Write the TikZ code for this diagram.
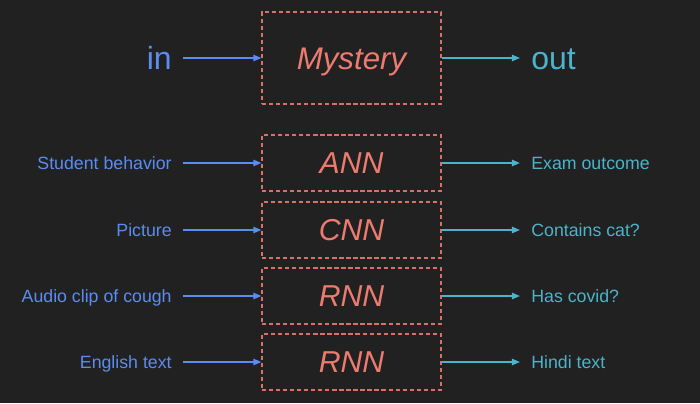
\documentclass[tikz,border=0pt]{standalone}
\usepackage{fontspec}
\setmainfont{Liberation Sans}
\usetikzlibrary{arrows.meta}
\definecolor{bgdark}{HTML}{212121}
\definecolor{inblue}{HTML}{5B8DEF}
\definecolor{outteal}{HTML}{4BB3CC}
\definecolor{netred}{HTML}{EC7B70}
\definecolor{boxred}{HTML}{D9706A}
\begin{document}
\begin{tikzpicture}[x=0.02cm, y=-0.02cm,
    netbox/.style={draw=boxred, line width=0.65pt, dash pattern=on 2.4pt off 1.6pt,
      minimum width=3.58cm, minimum height=1.12cm, text=netred, inner sep=0pt,
      text height=12.4pt, text depth=0pt, font=\fontsize{17.2}{20}\selectfont\itshape},
    inlbl/.style={text=inblue, anchor=east, inner xsep=0.22cm, inner ysep=0pt,
      text height=7.3pt, text depth=0pt, font=\fontsize{10.1}{12}\selectfont},
    outlbl/.style={text=outteal, anchor=west, inner xsep=0.22cm, inner ysep=0pt,
      text height=7.3pt, text depth=0pt, font=\fontsize{10.1}{12}\selectfont},
    inarr/.style={draw=inblue, line width=0.9pt, -{Triangle[length=4.6pt,width=3.6pt]}},
    outarr/.style={draw=outteal, line width=0.9pt, -{Triangle[length=4.6pt,width=3.6pt]}}]
  \fill[bgdark] (0,0) rectangle (700,403);
  \node[netbox, minimum height=1.84cm, text height=12.8pt, font=\fontsize{17.8}{22}\selectfont\itshape] (mystery) at (351.5,58) {Mystery};
  \node[inlbl, text height=13pt, font=\fontsize{18.2}{22}\selectfont] (in) at (183,58) {in};
  \node[outlbl, text height=13pt, font=\fontsize{18.2}{22}\selectfont] (out) at (520,58) {out};
  \draw[inarr] (in.east) -- (mystery.west);
  \draw[outarr] (mystery.east) -- (out.west);
  \foreach \y/\nm/\net/\inp/\outp in {163/ann/ANN/Student behavior/Exam outcome,
      230/cnn/CNN/Picture/Contains cat?,
      296/rnna/RNN/Audio clip of cough/Has covid?,
      362/rnnb/RNN/English text/Hindi text}{
    \node[netbox] (\nm) at (351.5,\y) {\net};
    \node[inlbl] (\nm-in) at (183,\y) {\inp};
    \node[outlbl] (\nm-out) at (520,\y) {\outp};
    \draw[inarr] (\nm-in.east) -- (\nm.west);
    \draw[outarr] (\nm.east) -- (\nm-out.west);
  }
\end{tikzpicture}
\end{document}
